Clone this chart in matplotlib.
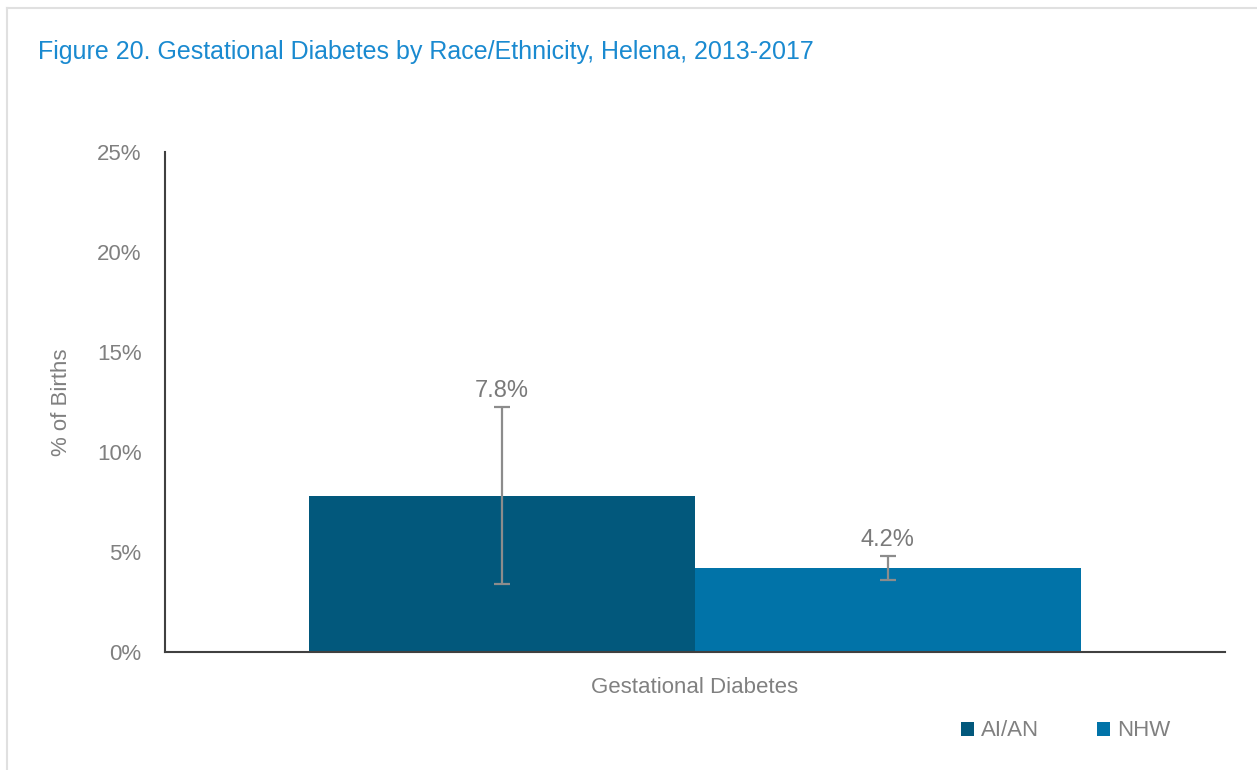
import matplotlib.pyplot as plt
from matplotlib.lines import Line2D
from matplotlib.patches import Patch

# data
category = "Gestational Diabetes"
groups = ["AI/AN", "NHW"]
values = [7.8, 4.2]
err_low = [3.4, 3.6]
err_high = [12.25, 4.8]
colors = ["#02587C", "#0173A8"]
yticks = [0, 5, 10, 15, 20, 25]

plt.rcParams['font.family'] = ['Liberation Sans Narrow', 'Liberation Sans', 'DejaVu Sans']
grey = "#808080"

fig = plt.figure(figsize=(12.57, 7.70), dpi=100)
W, H = 1257, 770
ax = fig.add_axes([165 / W, 1 - 652 / H, 1060 / W, 500 / H])

width = 0.3637
offsets = [-width / 2, width / 2]
for i in range(len(groups)):
    x = offsets[i]
    ax.bar(x, values[i], width=width, color=colors[i], label=groups[i])
    ax.errorbar(x, values[i],
                yerr=[[values[i] - err_low[i]], [err_high[i] - values[i]]],
                fmt='none', ecolor="#8C8C8C", elinewidth=1.6, capsize=6, capthick=1.6)
    ax.text(x, err_high[i] + 0.25, f"{values[i]:.1f}%", ha='center', va='bottom',
            fontsize=17, color="#7A7A7A")

ax.set_xlim(-0.5, 0.5)
ax.set_ylim(0, 25)
ax.set_yticks(yticks)
ax.set_yticklabels([f"{t}%" for t in yticks], fontsize=16, color=grey)
ax.tick_params(axis='y', length=0, pad=17)
ax.set_xticks([0])
ax.set_xticklabels([category], fontsize=16, color=grey)
ax.tick_params(axis='x', length=0, pad=18)
ax.set_ylabel("% of Births", fontsize=16, color=grey, labelpad=18)

for s in ['top', 'right']:
    ax.spines[s].set_visible(False)
for s in ['left', 'bottom']:
    ax.spines[s].set_color("#404040")
    ax.spines[s].set_linewidth(1.5)

handles = [Patch(facecolor=c, edgecolor='none') for c in colors]
fig.legend(handles, groups, loc='center left', bbox_to_anchor=(941 / W, 1 - 731 / H),
           ncol=2, frameon=False, fontsize=16, labelcolor=grey,
           handlelength=0.6, handleheight=0.6, handletextpad=0.3, columnspacing=2.6)

fig.text(38 / W, 1 - 52 / H, "Figure 20. Gestational Diabetes by Race/Ethnicity, Helena, 2013-2017",
         fontsize=18, color="#1A8AD0", va='center', ha='left')

# light page border on top and left
fig.add_artist(Line2D([7 / W, 1], [1 - 8 / H, 1 - 8 / H], color="#E0E0E0", lw=1.5))
fig.add_artist(Line2D([7 / W, 7 / W], [0, 1 - 8 / H], color="#E0E0E0", lw=1.5))

fig.savefig("out.png", dpi=100)
